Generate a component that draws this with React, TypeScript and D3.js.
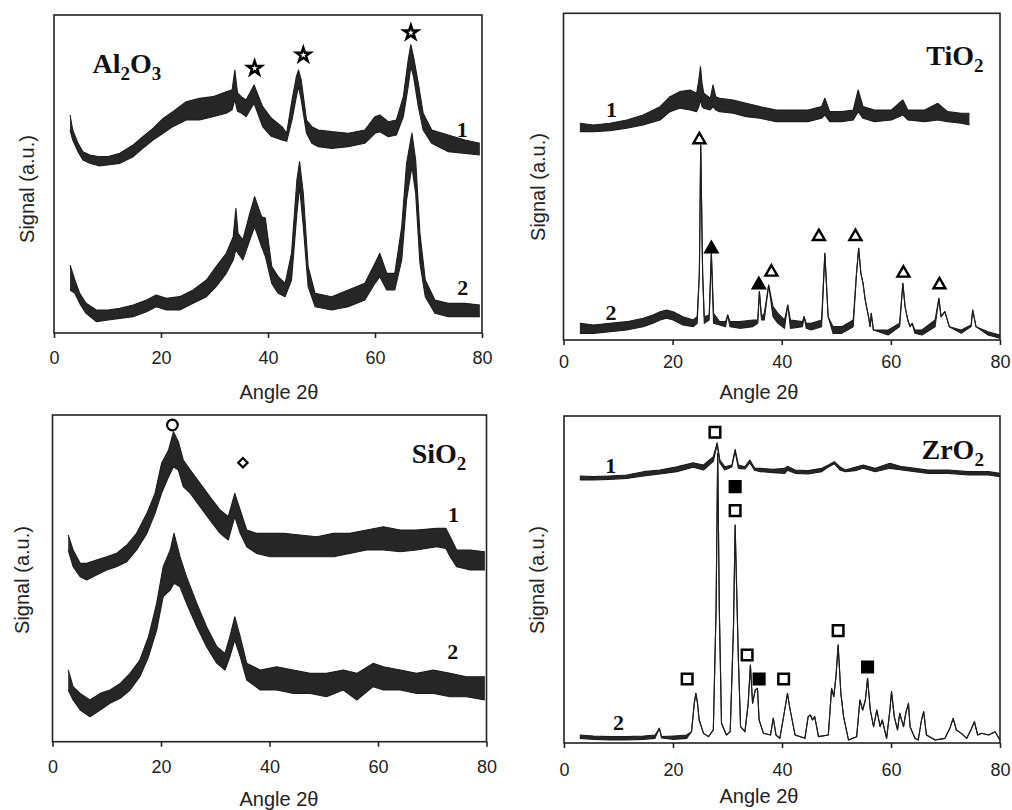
import React, { useEffect, useRef } from 'react';
import * as d3 from 'd3';

type Pt = [number, number, number]; // [angle 2θ, lower envelope, upper envelope] (a.u.)

const ANGLE_TICKS = [0, 20, 40, 60, 80];

// ---------- Al2O3 ----------
const AL_1: Pt[] = [
  [3.0, 609, 654], [3.5, 579, 609], [4.5, 544, 569], [5.4, 519, 544], [6.7, 509, 534],
  [8.5, 501, 529], [10.0, 504, 529], [12.3, 509, 539], [14.8, 529, 564], [16.6, 554, 589],
  [18.5, 579, 614], [20.4, 599, 644], [22.2, 619, 664], [24.7, 639, 694], [27.2, 639, 704],
  [29.7, 649, 709], [32.2, 659, 724], [33.3, 670, 730], [33.8, 700, 789], [34.3, 665, 720],
  [35.0, 660, 709], [35.9, 649, 699], [37.4, 689, 744], [39.0, 619, 679], [40.6, 590, 645],
  [42.6, 579, 619], [43.5, 575, 600], [44.5, 640, 700], [45.3, 709, 769], [45.7, 740, 789],
  [46.2, 700, 760], [47.2, 599, 639], [48.2, 569, 619], [49.4, 559, 609], [51.9, 554, 604],
  [55.0, 559, 599], [58.1, 569, 609], [60.0, 599, 649], [60.9, 604, 654], [62.5, 589, 634],
  [64.0, 594, 639], [65.3, 649, 709], [66.2, 739, 819], [66.7, 800, 865], [67.2, 769, 829],
  [68.1, 679, 749], [69.0, 609, 659], [70.6, 569, 609], [73.7, 544, 594], [76.8, 539, 579],
  [79.6, 534, 569],
];
const AL_2: Pt[] = [
  [3.0, 129, 204], [3.9, 119, 159], [4.8, 89, 119], [6.0, 59, 89], [7.9, 34, 69],
  [10.1, 39, 69], [12.3, 44, 74], [14.8, 49, 84], [17.3, 64, 99], [19.1, 79, 114],
  [21.0, 69, 104], [23.5, 69, 109], [26.0, 89, 129], [28.5, 109, 159], [30.3, 139, 199],
  [32.2, 179, 239], [33.5, 219, 289], [34.0, 250, 374], [34.4, 239, 299], [35.3, 219, 279],
  [36.6, 279, 359], [37.5, 319, 409], [38.8, 259, 349], [39.5, 230, 345], [40.7, 149, 199],
  [41.9, 119, 169], [43.2, 109, 149], [44.4, 159, 239], [45.4, 359, 459], [45.9, 439, 514],
  [46.6, 319, 419], [47.5, 139, 199], [48.8, 79, 119], [51.9, 69, 109], [55.0, 79, 129],
  [58.1, 99, 149], [60.0, 149, 209], [60.9, 169, 239], [62.2, 129, 179], [63.7, 129, 179],
  [65.0, 219, 319], [65.9, 399, 509], [66.9, 500, 600], [67.6, 419, 519], [68.4, 209, 299],
  [69.4, 109, 159], [71.2, 59, 99], [73.7, 49, 89], [76.8, 49, 89], [79.6, 49, 84],
];

// ---------- TiO2 ----------
const TI_1: Pt[] = [
  [3.0, 625, 650], [5.5, 625, 645], [8.5, 628, 650], [11.6, 635, 660], [14.6, 645, 675],
  [17.7, 660, 700], [19.5, 685, 730], [21.3, 695, 745], [23.2, 690, 750], [24.4, 685, 740],
  [24.8, 700, 780], [25.1, 720, 820], [25.4, 700, 770], [25.7, 695, 740], [26.9, 690, 725],
  [27.4, 700, 765], [27.9, 690, 730], [28.6, 685, 725], [31.1, 680, 720], [33.5, 670, 710],
  [36.0, 665, 700], [39.0, 655, 690], [41.8, 655, 690], [44.8, 655, 690], [47.3, 665, 700],
  [47.9, 675, 725], [48.8, 655, 685], [51.0, 655, 685], [53.1, 660, 690], [54.0, 685, 750],
  [54.9, 665, 700], [57.0, 655, 690], [60.1, 660, 690], [62.2, 675, 720], [63.1, 660, 690],
  [66.2, 655, 690], [68.6, 660, 710], [70.4, 655, 685], [72.9, 650, 680], [74.4, 645, 680],
];
const TI_2: Pt[] = [
  [3.0, 20, 50], [5.5, 20, 45], [8.5, 25, 50], [11.6, 30, 55], [14.6, 40, 65],
  [16.4, 50, 75], [17.7, 60, 85], [18.9, 65, 90], [20.1, 60, 85], [21.9, 45, 70],
  [23.8, 40, 60], [24.5, 50, 70], [24.9, 200, 200], [25.15, 585, 585], [25.5, 200, 200],
  [25.8, 50, 70], [26.7, 60, 75], [27.1, 261, 261], [27.5, 50, 80], [28.6, 45, 55],
  [29.7, 40, 55], [30.1, 75, 75], [30.5, 40, 55], [32.3, 35, 55], [34.7, 40, 60],
  [35.6, 50, 60], [35.9, 145, 145], [36.3, 60, 70], [36.8, 60, 80], [37.6, 165, 165],
  [38.4, 70, 100], [39.3, 50, 80], [40.5, 35, 60], [41.1, 105, 105], [41.6, 35, 60],
  [43.8, 40, 55], [44.1, 70, 70], [44.5, 35, 50], [45.4, 30, 50], [47.3, 40, 60],
  [47.9, 260, 260], [48.5, 70, 70], [49.4, 20, 40], [51.0, 20, 40], [53.1, 40, 60],
  [53.7, 200, 200], [54.1, 275, 275], [54.5, 200, 200], [54.9, 170, 170], [55.3, 120, 120],
  [55.9, 70, 70], [56.2, 40, 40], [56.4, 80, 80], [56.8, 30, 30], [59.5, 15, 30],
  [61.6, 40, 50], [62.2, 170, 170], [62.6, 100, 100], [63.1, 60, 60], [63.5, 40, 40],
  [63.9, 50, 50], [64.4, 20, 30], [65.7, 15, 30], [68.1, 40, 60], [68.8, 125, 125],
  [69.2, 70, 70], [69.9, 85, 85], [70.7, 40, 40], [72.9, 20, 30], [74.7, 40, 45],
  [75.0, 90, 90], [75.6, 40, 40], [77.8, 15, 25], [80.0, 5, 15],
];

// ---------- SiO2 ----------
const SI_1: Pt[] = [
  [2.9, 575, 620], [3.8, 525, 575], [5.1, 495, 535], [6.3, 485, 535], [8.1, 500, 545],
  [10.0, 515, 555], [11.8, 525, 565], [13.7, 540, 590], [15.5, 575, 625], [17.4, 625, 685],
  [18.9, 685, 745], [20.1, 745, 835], [21.4, 795, 875], [22.3, 825, 930], [23.2, 815, 900],
  [24.1, 765, 845], [25.4, 745, 815], [27.2, 705, 775], [29.0, 665, 735], [30.9, 625, 695],
  [32.4, 605, 675], [33.6, 675, 745], [34.6, 625, 695], [35.8, 585, 635], [37.6, 565, 625],
  [40.1, 555, 625], [42.6, 555, 625], [45.6, 555, 620], [48.7, 555, 615], [51.8, 555, 625],
  [54.8, 565, 625], [57.9, 575, 635], [61.0, 575, 645], [64.1, 570, 635], [67.1, 575, 635],
  [70.8, 585, 640], [72.5, 580, 640], [73.3, 555, 615], [74.5, 525, 575], [77.0, 515, 575],
  [79.7, 515, 570],
];
const SI_2: Pt[] = [
  [2.9, 155, 215], [3.8, 125, 165], [5.1, 95, 145], [6.9, 75, 125], [8.8, 95, 145],
  [10.6, 115, 155], [12.5, 130, 175], [14.3, 155, 205], [16.1, 195, 245], [17.7, 255, 315],
  [19.2, 335, 415], [20.4, 435, 525], [21.7, 455, 575], [22.4, 475, 625], [23.5, 465, 555],
  [24.7, 415, 495], [26.6, 345, 415], [28.4, 285, 345], [30.3, 235, 285], [31.8, 215, 265],
  [32.7, 255, 315], [33.6, 305, 375], [34.6, 255, 315], [35.8, 185, 235], [38.3, 155, 215],
  [41.3, 155, 225], [44.4, 145, 215], [47.5, 145, 205], [50.5, 135, 205], [53.6, 155, 215],
  [56.1, 125, 205], [59.1, 165, 235], [61.0, 155, 225], [64.1, 155, 215], [67.1, 145, 205],
  [70.2, 145, 215], [73.3, 135, 205], [76.3, 135, 195], [79.7, 125, 195],
];

// ---------- ZrO2 ----------
const ZR_1: Pt[] = [
  [2.9, 789, 801], [5.4, 789, 799], [8.4, 791, 801], [11.5, 794, 804], [14.6, 801, 814],
  [17.6, 807, 819], [20.7, 814, 829], [23.7, 827, 841], [25.6, 819, 834], [27.4, 845, 859],
  [28.1, 895, 901], [28.6, 840, 849], [29.5, 819, 829], [30.8, 828, 834], [31.4, 875, 881],
  [32.0, 824, 834], [33.2, 822, 829], [34.1, 840, 849], [35.0, 818, 824], [36.0, 814, 824],
  [38.4, 811, 821], [40.5, 809, 824], [41.0, 818, 830], [42.4, 809, 819], [44.8, 807, 817],
  [47.3, 814, 824], [48.5, 828, 834], [49.6, 838, 844], [50.6, 819, 829], [51.6, 814, 819],
  [53.4, 817, 827], [54.9, 824, 834], [57.1, 814, 824], [59.8, 824, 839], [62.0, 819, 829],
  [64.4, 814, 824], [66.8, 809, 819], [70.5, 809, 819], [74.2, 804, 814], [77.9, 804, 814],
  [80.0, 799, 809],
];
const ZR_2: Pt[] = [
  [2.9, 14, 24], [5.4, 11, 21], [8.4, 9, 19], [11.5, 9, 19], [14.6, 11, 21],
  [16.7, 14, 24], [17.5, 44, 44], [17.9, 15, 19], [20.1, 11, 21], [22.5, 14, 24],
  [23.4, 34, 34], [23.9, 119, 119], [24.2, 149, 149], [24.5, 119, 119], [24.8, 69, 69],
  [25.6, 29, 29], [26.5, 19, 19], [27.4, 39, 39], [27.9, 399, 399], [28.2, 869, 869],
  [28.5, 399, 399], [28.9, 59, 59], [29.8, 24, 24], [30.5, 34, 34], [31.1, 349, 349],
  [31.4, 654, 654], [31.7, 449, 449], [32.0, 249, 249], [32.4, 49, 49], [33.2, 34, 34],
  [33.8, 119, 119], [34.2, 234, 234], [34.6, 119, 119], [35.1, 159, 159], [35.5, 164, 164],
  [35.8, 69, 69], [36.6, 29, 29], [37.9, 24, 24], [38.4, 75, 75], [38.9, 24, 24],
  [39.6, 14, 14], [40.5, 99, 99], [41.0, 149, 149], [41.5, 99, 99], [42.4, 24, 24],
  [44.2, 14, 14], [44.8, 79, 79], [45.2, 84, 84], [45.6, 69, 69], [46.0, 79, 79],
  [46.7, 19, 19], [48.5, 24, 24], [49.1, 164, 164], [49.5, 139, 139], [49.9, 199, 199],
  [50.3, 294, 294], [50.8, 149, 149], [51.3, 79, 79], [52.2, 9, 9], [53.7, 19, 19],
  [54.3, 129, 129], [54.8, 99, 99], [55.3, 129, 129], [55.7, 194, 194], [56.2, 99, 99],
  [56.8, 49, 49], [57.4, 99, 99], [58.0, 49, 49], [58.4, 69, 69], [59.2, 14, 14],
  [59.8, 99, 99], [60.1, 154, 154], [60.6, 79, 79], [61.2, 39, 39], [61.6, 89, 89],
  [62.3, 49, 49], [62.7, 89, 89], [63.2, 119, 119], [63.5, 49, 49], [64.4, 14, 14],
  [65.0, 9, 9], [65.6, 69, 69], [66.0, 94, 94], [66.5, 24, 24], [68.1, 9, 9],
  [69.9, 14, 14], [70.8, 44, 44], [71.4, 74, 74], [72.0, 39, 39], [72.9, 29, 29],
  [73.9, 14, 14], [74.8, 44, 44], [75.3, 64, 64], [75.9, 24, 24], [76.6, 29, 29],
  [77.9, 24, 24], [79.1, 34, 34], [80.0, 9, 9],
];

// ---------- phase markers: [kind, angle, signal] ----------
type Kind = 'star' | 'triOpen' | 'triFilled' | 'circle' | 'diamond' | 'sqOpen' | 'sqFilled';
type Mk = [Kind, number, number];
const AL_MARKS: Mk[] = [['star', 37.5, 794], ['star', 46.6, 834], ['star', 66.7, 901]];
const TI_MARKS: Mk[] = [
  ['triOpen', 24.9, 605], ['triFilled', 27.1, 278], ['triFilled', 35.8, 170], ['triOpen', 38.1, 208],
  ['triOpen', 46.8, 315], ['triOpen', 53.5, 315], ['triOpen', 62.3, 205], ['triOpen', 68.9, 170],
];
const SI_MARKS: Mk[] = [['circle', 22.1, 950], ['diamond', 35.1, 837]];
const ZR_MARKS: Mk[] = [
  ['sqOpen', 27.7, 932], ['sqFilled', 31.4, 769], ['sqOpen', 31.4, 697], ['sqOpen', 33.6, 264],
  ['sqFilled', 35.8, 192], ['sqOpen', 22.6, 192], ['sqOpen', 40.3, 192], ['sqOpen', 50.3, 337],
  ['sqFilled', 55.7, 228],
];

// ---------- curve number labels: [text, angle, signal] ----------
type Lb = [string, number, number];
const AL_LABELS: Lb[] = [['1', 76.3, 589], ['2', 76.4, 114]];
const TI_LABELS: Lb[] = [['1', 8.8, 670], ['2', 8.7, 60]];
const SI_LABELS: Lb[] = [['1', 73.9, 660], ['2', 73.8, 247]];
const ZR_LABELS: Lb[] = [['1', 8.6, 811], ['2', 10.0, 39]];

const SANS = '"Liberation Sans", Arial, sans-serif';
const SERIF = '"Liberation Serif", "Times New Roman", serif';

interface Panel {
  key: string;
  box: { x0: number; x1: number; top: number; bottom: number };
  yMax: number;
  curves: Pt[][];
  marks: Mk[];
  labels: Lb[];
  title: [string, string, string, string]; // main, sub, main, sub
  titlePos: [number, number];
  tickPad: number;
  xTitle: [number, number];
  yTitle: [number, number];
}

const PANELS: Panel[] = [
  {
    key: 'al', box: { x0: 54, x1: 482, top: 15, bottom: 333 }, yMax: 954,
    curves: [AL_1, AL_2], marks: AL_MARKS, labels: AL_LABELS,
    title: ['Al', '2', 'O', '3'], titlePos: [7.2, 781], tickPad: 13,
    xTitle: [279, 399], yTitle: [27, 189],
  },
  {
    key: 'ti', box: { x0: 563.5, x1: 1000, top: 13.3, bottom: 340 }, yMax: 980,
    curves: [TI_1, TI_2], marks: TI_MARKS, labels: TI_LABELS,
    title: ['TiO', '2', '', ''], titlePos: [66.5, 825], tickPad: 10,
    xTitle: [759, 399], yTitle: [538, 187],
  },
  {
    key: 'si', box: { x0: 52.5, x1: 486.5, top: 415, bottom: 741.7 }, yMax: 980,
    curves: [SI_1, SI_2], marks: SI_MARKS, labels: SI_LABELS,
    title: ['SiO', '2', '', ''], titlePos: [66.2, 835], tickPad: 14,
    xTitle: [279, 806], yTitle: [22, 580],
  },
  {
    key: 'zr', box: { x0: 564, x1: 1000, top: 416, bottom: 743 }, yMax: 981,
    curves: [ZR_1, ZR_2], marks: ZR_MARKS, labels: ZR_LABELS,
    title: ['ZrO', '2', '', ''], titlePos: [65.6, 851], tickPad: 15,
    xTitle: [759, 803], yTitle: [537, 580],
  },
];

function XAxis({ scale, y, pad }: { scale: d3.ScaleLinear<number, number>; y: number; pad: number }) {
  const ref = useRef<SVGGElement>(null);
  useEffect(() => {
    if (!ref.current) return;
    const g = d3.select(ref.current);
    g.selectAll('*').remove();
    g.call(d3.axisBottom(scale).tickValues(ANGLE_TICKS).tickSize(5).tickSizeOuter(0).tickPadding(pad).tickFormat(d3.format('d')) as any);
    g.select('.domain').remove();
    g.selectAll('.tick line').attr('stroke', '#222').attr('stroke-width', 1.6);
    g.selectAll('.tick text')
      .attr('font-size', 18)
      .attr('font-family', SANS)
      .attr('fill', '#222');
  }, [scale, y, pad]);
  return <g ref={ref} transform={`translate(0,${y})`} />;
}

function Marker({ m, x, y }: { m: Mk; x: number; y: number }) {
  const [kind] = m;
  const sym = (t: d3.SymbolType, s: number) => d3.symbol(t, s)() || '';
  if (kind === 'star')
    return <path d={sym(d3.symbolStar, 60)} transform={`translate(${x},${y})`} fill="#fff" stroke="#000" strokeWidth={2.5} strokeLinejoin="miter" />;
  if (kind === 'triOpen' || kind === 'triFilled')
    return <path d={sym(d3.symbolTriangle, 62)} transform={`translate(${x},${y + 1.5})`} fill={kind === 'triFilled' ? '#000' : '#fff'} stroke="#000" strokeWidth={2.4} strokeLinejoin="miter" />;
  if (kind === 'circle')
    return <path d={sym(d3.symbolCircle, 90)} transform={`translate(${x},${y})`} fill="#fff" stroke="#000" strokeWidth={2.2} />;
  if (kind === 'diamond')
    return <path d={sym(d3.symbolSquare, 44)} transform={`translate(${x},${y}) rotate(45)`} fill="#fff" stroke="#000" strokeWidth={2.2} />;
  if (kind === 'sqOpen')
    return <path d={sym(d3.symbolSquare, 112)} transform={`translate(${x},${y})`} fill="#fff" stroke="#000" strokeWidth={2.5} />;
  return <path d={sym(d3.symbolSquare, 112)} transform={`translate(${x},${y})`} fill="#000" stroke="#000" strokeWidth={2.5} />;
}

function PanelView({ p }: { p: Panel }) {
  const x = d3.scaleLinear().domain([0, 80]).range([p.box.x0, p.box.x1]);
  const y = d3.scaleLinear().domain([0, p.yMax]).range([p.box.bottom, p.box.top]);
  const area = d3.area<Pt>().x((d) => x(d[0])).y0((d) => y(d[1])).y1((d) => y(d[2]));
  const lo = d3.line<Pt>().x((d) => x(d[0])).y((d) => y(d[1]));
  const hi = d3.line<Pt>().x((d) => x(d[0])).y((d) => y(d[2]));
  const [m1, s1, m2, s2] = p.title;
  return (
    <g>
      <rect x={p.box.x0} y={p.box.top} width={p.box.x1 - p.box.x0} height={p.box.bottom - p.box.top}
        fill="none" stroke="#222" strokeWidth={1.6} />
      {p.curves.map((c, i) => (
        <g key={i}>
          <path d={area(c) || ''} fill="#262626" stroke="none" />
          <path d={lo(c) || ''} fill="none" stroke="#1c1c1c" strokeWidth={1.1} strokeLinejoin="round" />
          <path d={hi(c) || ''} fill="none" stroke="#1c1c1c" strokeWidth={1.1} strokeLinejoin="round" />
        </g>
      ))}
      {p.marks.map((m, i) => (
        <Marker key={i} m={m} x={x(m[1])} y={y(m[2])} />
      ))}
      {p.labels.map((l, i) => (
        <text key={i} x={x(l[1])} y={y(l[2])} textAnchor="middle" fontFamily={SERIF} fontWeight="bold" fontSize={22} fill="#111">
          {l[0]}
        </text>
      ))}
      <text x={x(p.titlePos[0])} y={y(p.titlePos[1])} fontFamily={SERIF} fontWeight="bold" fontSize={28} fill="#111">
        <tspan>{m1}</tspan>
        <tspan fontSize={19} dy={7}>{s1}</tspan>
        {m2 && <tspan fontSize={28} dy={-7}>{m2}</tspan>}
        {s2 && <tspan fontSize={19} dy={7}>{s2}</tspan>}
      </text>
      <XAxis scale={x} y={p.box.bottom} pad={p.tickPad} />
      <text x={p.xTitle[0]} y={p.xTitle[1]} textAnchor="middle" fontFamily={SANS} fontSize={20} fill="#222">
        Angle 2θ
      </text>
      <text transform={`translate(${p.yTitle[0]},${p.yTitle[1]}) rotate(-90)`} textAnchor="middle"
        dominantBaseline="central" fontFamily={SANS} fontSize={20} fill="#222">
        Signal (a.u.)
      </text>
    </g>
  );
}

export default function App() {
  return (
    <svg width={1012} height={810} viewBox="0 0 1012 810"
      style={{ position: 'absolute', left: 0, top: 0, background: '#fff' }}>
      <rect x={0} y={0} width={1012} height={810} fill="#fff" />
      {PANELS.map((p) => (
        <PanelView key={p.key} p={p} />
      ))}
    </svg>
  );
}
